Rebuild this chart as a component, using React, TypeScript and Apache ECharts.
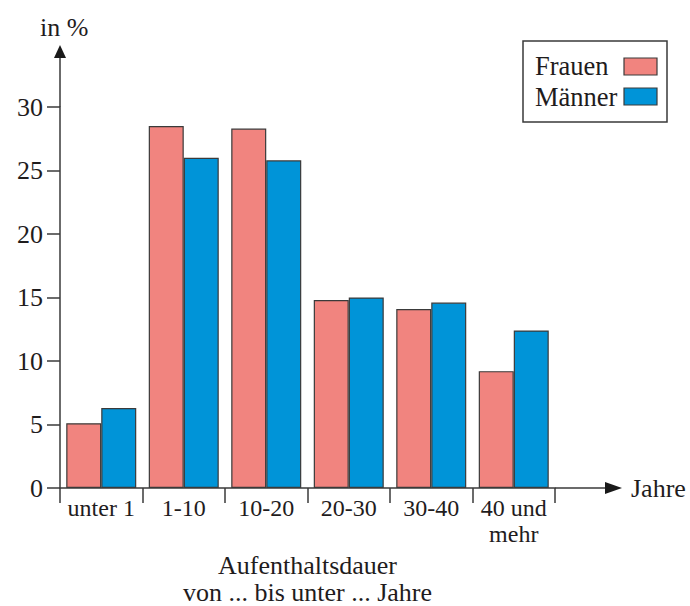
import React, { useEffect, useRef } from "react";
import * as echarts from "echarts";

const categories = ["unter 1", "1-10", "10-20", "20-30", "30-40", "40 und\nmehr"];
const seriesNames = ["Frauen", "Männer"];
const frauen = [5.1, 28.5, 28.3, 14.8, 14.1, 9.2];
const maenner = [6.3, 26.0, 25.8, 15.0, 14.6, 12.4];
const seriesColors = ["#F1847F", "#0094D8"];
const yAxisTitle = "in %";
const xAxisTitle = "Jahre";
const xAxisCaption = ["Aufenthaltsdauer", "von ... bis unter ... Jahre"];

const FONT = "Liberation Serif";
const INK = "#1f1c1d";
const LINE = "#3a3a3a";

export default function App() {
  const ref = useRef<HTMLDivElement>(null);

  useEffect(() => {
    if (!ref.current) return;
    const chart = echarts.init(ref.current, undefined, { renderer: "svg" });
    const gridLeft = 60;
    const gridRight = 135;
    const gridTop = 107;
    const gridBottom = 118;
    const W = 690;
    const H = 606;
    const axisY = H - gridBottom;
    const axisXEnd = W - gridRight;

    const legendX = 523;
    const legendY = 41;

    const txt = (size: number) => ({ fontFamily: FONT, fontSize: size, fill: INK });

    chart.setOption({
      animation: false,
      textStyle: { fontFamily: FONT, color: INK },
      grid: { left: gridLeft, right: gridRight, top: gridTop, bottom: gridBottom },
      xAxis: {
        type: "category",
        data: categories,
        axisLine: { show: true, lineStyle: { color: LINE, width: 1.5 } },
        axisTick: { show: true, length: 15, lineStyle: { color: LINE, width: 1.5 } },
        axisLabel: {
          interval: 0,
          margin: 7,
          fontSize: 24,
          lineHeight: 26,
          color: INK,
          fontFamily: FONT,
        },
      },
      yAxis: {
        type: "value",
        min: 0,
        max: 30,
        interval: 5,
        axisLine: { show: true, lineStyle: { color: LINE, width: 1.5 } },
        axisTick: { show: true, length: 13, lineStyle: { color: LINE, width: 1.5 } },
        splitLine: { show: false },
        axisLabel: { margin: 17, fontSize: 26, color: INK, fontFamily: FONT },
      },
      series: [
        {
          name: seriesNames[0],
          type: "bar",
          data: frauen,
          barWidth: 35,
          barGap: "0%",
          itemStyle: { color: seriesColors[0], borderColor: LINE, borderWidth: 1.2 },
        },
        {
          name: seriesNames[1],
          type: "bar",
          data: maenner,
          barWidth: 35,
          barGap: "0%",
          itemStyle: { color: seriesColors[1], borderColor: LINE, borderWidth: 1.2 },
        },
      ],
      graphic: [
        {
          type: "line",
          shape: { x1: gridLeft, y1: gridTop, x2: gridLeft, y2: 56 },
          style: { stroke: LINE, lineWidth: 1.5 },
        },
        {
          type: "polygon",
          shape: { points: [[gridLeft, 45], [gridLeft - 6, 58], [gridLeft + 6, 58]] },
          style: { fill: "#1a1a1a" },
        },
        {
          type: "text",
          x: 40,
          y: 27,
          style: { text: yAxisTitle, ...txt(26), verticalAlign: "middle" },
        },
        {
          type: "line",
          shape: { x1: axisXEnd, y1: axisY, x2: 608, y2: axisY },
          style: { stroke: LINE, lineWidth: 1.5 },
        },
        {
          type: "polygon",
          shape: { points: [[622, axisY], [605, axisY - 6], [605, axisY + 6]] },
          style: { fill: "#1a1a1a" },
        },
        {
          type: "text",
          x: 631,
          y: axisY,
          style: { text: xAxisTitle, ...txt(26), verticalAlign: "middle" },
        },
        {
          type: "text",
          x: (gridLeft + axisXEnd) / 2,
          y: 565,
          style: { text: xAxisCaption[0], ...txt(26), align: "center", verticalAlign: "middle" },
        },
        {
          type: "text",
          x: (gridLeft + axisXEnd) / 2,
          y: 592,
          style: { text: xAxisCaption[1], ...txt(26), align: "center", verticalAlign: "middle" },
        },
        {
          type: "rect",
          shape: { x: legendX, y: legendY, width: 144, height: 81 },
          style: { fill: "#fff", stroke: LINE, lineWidth: 1.5 },
        },
        ...seriesNames.flatMap((name, i) => [
          {
            type: "text",
            x: legendX + 12,
            y: 66 + i * 31,
            style: { text: name, ...txt(26.5), verticalAlign: "middle" },
          },
          {
            type: "rect",
            shape: { x: 624, y: 58 + i * 30, width: 33, height: 17 },
            style: { fill: seriesColors[i], stroke: LINE, lineWidth: 1.2 },
          },
        ]),
      ],
    });
    return () => chart.dispose();
  }, []);

  return (
    <div
      ref={ref}
      style={{ position: "fixed", left: 0, top: 0, width: 690, height: 606, background: "#fff" }}
    />
  );
}
